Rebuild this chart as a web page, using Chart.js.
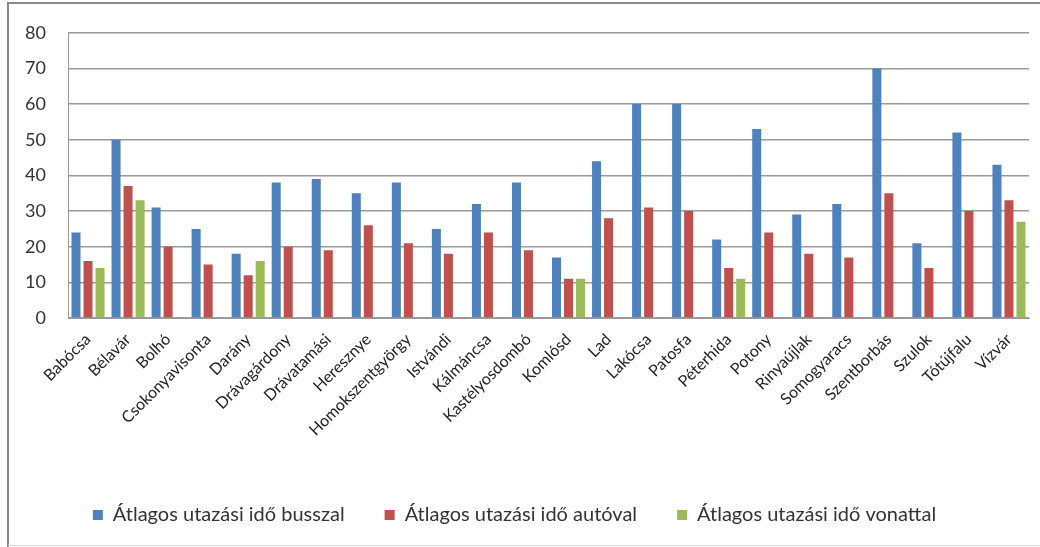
<!DOCTYPE html>
<html>
<head>
<meta charset="utf-8">
<script src="https://cdn.jsdelivr.net/npm/chart.js@4/dist/chart.umd.min.js"></script>
<style>
  html, body { margin: 0; padding: 0; background: #fff; }
  #wrap { width: 1040px; height: 547px; position: relative; }
</style>
</head>
<body>
<div id="wrap"><canvas id="chart"></canvas></div>
<script>
// Villages and average travel times (minutes)
const villages = [
  'Babócsa', 'Bélavár', 'Bolhó', 'Csokonyavisonta', 'Darány', 'Drávagárdony',
  'Drávatamási', 'Heresznye', 'Homokszentgyörgy', 'Istvándi', 'Kálmáncsa',
  'Kastélyosdombó', 'Komlósd', 'Lad', 'Lakócsa', 'Patosfa', 'Péterhida',
  'Potony', 'Rinyaújlak', 'Somogyaracs', 'Szentborbás', 'Szulok', 'Tótújfalu', 'Vízvár'
];
const bus   = [24, 50, 31, 25, 18, 38, 39, 35, 38, 25, 32, 38, 17, 44, 60, 60, 22, 53, 29, 32, 70, 21, 52, 43];
const car   = [16, 37, 20, 15, 12, 20, 19, 26, 21, 18, 24, 19, 11, 28, 31, 30, 14, 24, 18, 17, 35, 14, 30, 33];
const train = [14, 33, null, null, 16, null, null, null, null, null, null, null, 11, null, null, null, 11, null, null, null, null, null, null, 27];
const yTicks = [0, 10, 20, 30, 40, 50, 60, 70, 80];

const seriesNames = [
  'Átlagos utazási idő busszal',
  'Átlagos utazási idő autóval',
  'Átlagos utazási idő vonattal'
];
const colors = ['#4F81BD', '#C0504D', '#9BBB59'];

const font = "Lato, 'Open Sans', sans-serif";

// outer frame of the original picture
const framePlugin = {
  id: 'frame',
  beforeDraw(chart) {
    const ctx = chart.ctx;
    ctx.save();
    ctx.strokeStyle = '#8a8a8a';
    ctx.lineWidth = 2;
    ctx.beginPath();
    ctx.moveTo(8, 547);
    ctx.lineTo(8, 3);
    ctx.lineTo(1040, 3);
    ctx.stroke();
    ctx.strokeStyle = '#d8d8d8';
    ctx.lineWidth = 1;
    ctx.beginPath();
    ctx.moveTo(8, 545.5);
    ctx.lineTo(1040, 545.5);
    ctx.stroke();
    ctx.restore();
  }
};

new Chart(document.getElementById('chart'), {
  type: 'bar',
  data: {
    labels: villages,
    datasets: [bus, car, train].map((d, i) => ({
      label: seriesNames[i],
      data: d,
      backgroundColor: colors[i],
      borderWidth: 0,
      categoryPercentage: 0.9,
      barPercentage: 0.75,
    })),
  },
  options: {
    responsive: true,
    maintainAspectRatio: false,
    animation: false,
    layout: { padding: { left: 0, top: 30, right: 11, bottom: 12 } },
    plugins: {
      legend: {
        position: 'bottom',
        labels: {
          boxWidth: 10,
          boxHeight: 10,
          padding: 40,
          color: '#333',
          font: { family: font, size: 20 },
        },
      },
      tooltip: { enabled: false },
    },
    scales: {
      x: {
        grid: { display: false },
        border: { color: '#999', width: 1 },
        ticks: {
          maxRotation: 45,
          minRotation: 45,
          autoSkip: false,
          color: '#222',
          padding: 4,
          font: { family: font, size: 16 },
        },
        afterFit(scale) { scale.height = 147; },
      },
      y: {
        min: 0,
        max: 80,
        afterBuildTicks(scale) { scale.ticks = yTicks.map(v => ({ value: v })); },
        grid: { color: '#9a9a9a', lineWidth: 1.5, drawTicks: false },
        border: { color: '#999', width: 1 },
        ticks: {
          color: '#333',
          padding: 22,
          font: { family: font, size: 18 },
        },
        afterFit(scale) { scale.width = 68; },
      },
    },
  },
  plugins: [framePlugin],
});
</script>
</body>
</html>
